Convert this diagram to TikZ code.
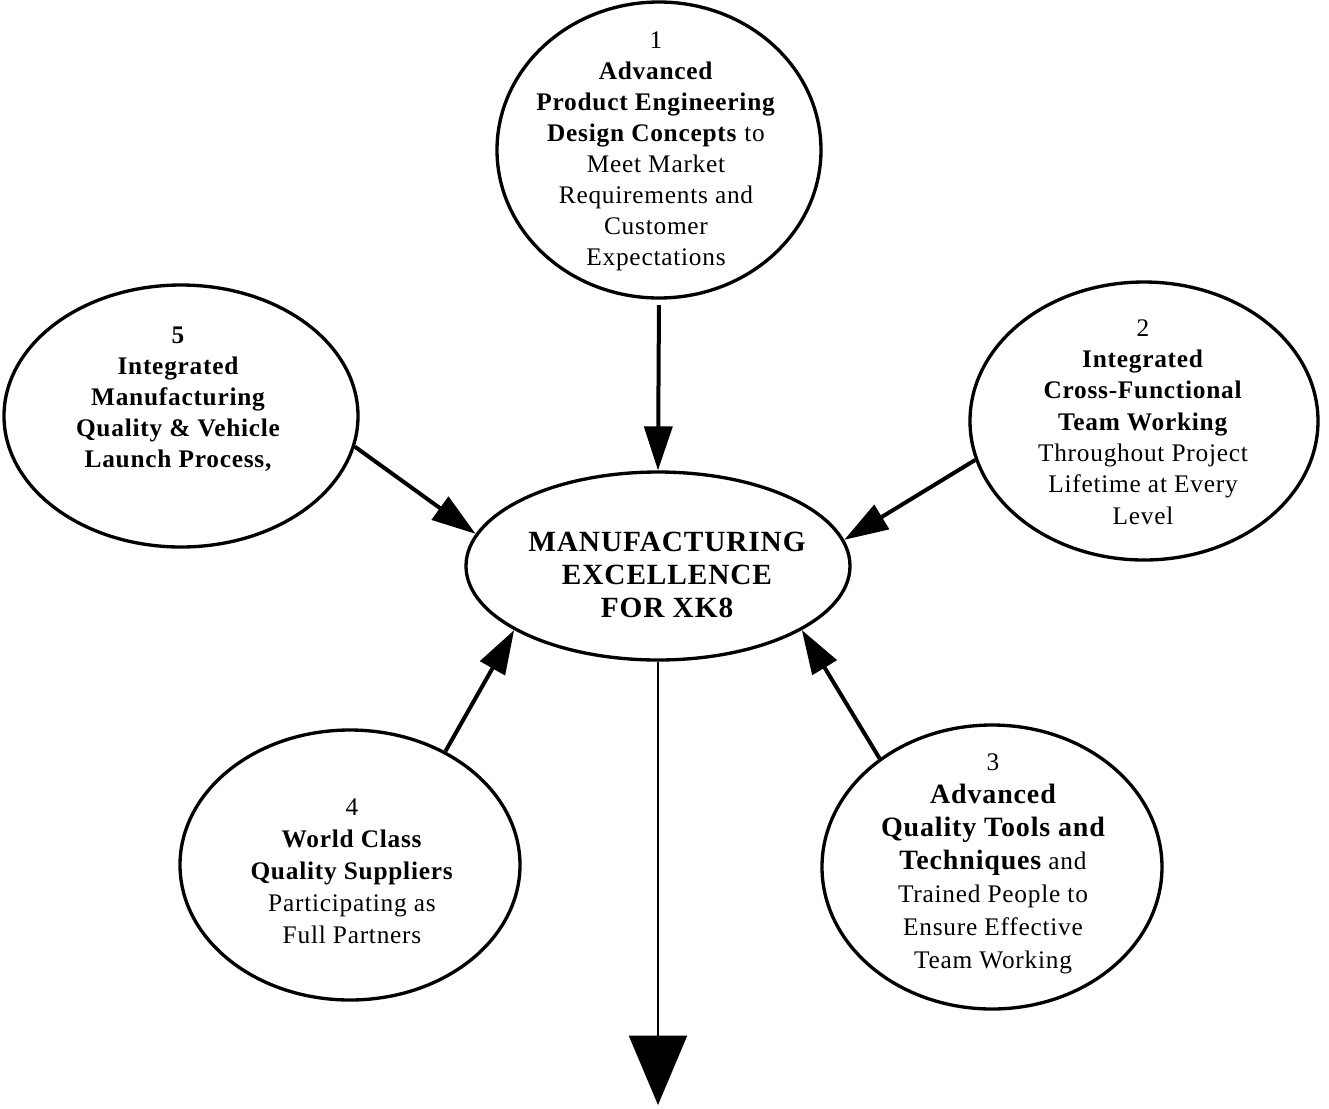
\documentclass[tikz,border=0pt]{standalone}
\usepackage{fontspec}
\setmainfont[LetterSpace=3]{Liberation Serif}
\usetikzlibrary{arrows.meta,shapes.geometric}
\newcommand\eB[1]{{\fontsize{21pt}{24.75pt}\selectfont\bfseries #1}}
\begin{document}
\begin{tikzpicture}[x=0.75pt,y=-0.75pt,
  oval/.style={ellipse,draw,line width=2.5pt,inner sep=0pt},
  lbl/.style={align=center,inner sep=0pt,font=\fontsize{19pt}{23.25pt}\selectfont},
  feed/.style={line width=3pt,-{Triangle[width=21pt,length=33pt]}},
  outflow/.style={line width=1.5pt,-{Triangle[width=43.5pt,length=52pt]}}]
\useasboundingbox (0,0) rectangle (1329,1108);

\node[oval,minimum width=243pt,minimum height=222pt] (e1) at (659,150) {};
\node[oval,minimum width=288pt,minimum height=141pt] (c) at (658,566) {};
\node[oval,minimum width=265.5pt,minimum height=196.5pt] (e5) at (181,416) {};
\node[oval,minimum width=261pt,minimum height=208.5pt] (e2) at (1144,421) {};
\node[oval,minimum width=255pt,minimum height=202.5pt] (e4) at (350,865) {};
\node[oval,minimum width=255pt,minimum height=213pt] (e3) at (992,867) {};

\node[lbl] (t1) at (656,151) {1\\\textbf{Advanced}\\\textbf{Product Engineering}\\\textbf{Design Concepts} to\\Meet Market\\Requirements and\\Customer\\Expectations};
\node[lbl,font=\fontsize{22pt}{24.75pt}\selectfont\bfseries] (tc) at (667,575) {MANUFACTURING\\EXCELLENCE\\FOR XK8};
\node[lbl,font=\fontsize{19pt}{23.25pt}\selectfont\bfseries] (t5) at (178,399) {5\\Integrated\\Manufacturing\\Quality \& Vehicle\\Launch Process,};
\node[lbl,font=\fontsize{19pt}{23.5pt}\selectfont] (t2) at (1143,422) {2\\\textbf{Integrated}\\\textbf{Cross-Functional}\\\textbf{Team Working}\\Throughout Project\\Lifetime at Every\\Level};
\node[lbl,font=\fontsize{19pt}{24.75pt}\selectfont] (t3) at (993,864) {3\\\eB{Advanced}\\\eB{Quality Tools and}\\\eB{Techniques} and\\Trained People to\\Ensure Effective\\Team Working};
\node[lbl,font=\fontsize{19pt}{24pt}\selectfont] (t4) at (352,871) {4\\\textbf{World Class}\\\textbf{Quality Suppliers}\\Participating as\\Full Partners};

\coordinate (sink) at (658,1105);
\draw[feed,shorten <=4pt] (e1.south) -- (c.north);
\draw[feed] (e5.-10) -- (c.170);
\draw[feed] (e2.-167) -- (c.8);
\draw[feed] (e4.50) -- (c.-156);
\draw[feed] (e3.136) -- (c.-24);
\draw[outflow] (c.south) -- (sink);
\end{tikzpicture}
\end{document}
